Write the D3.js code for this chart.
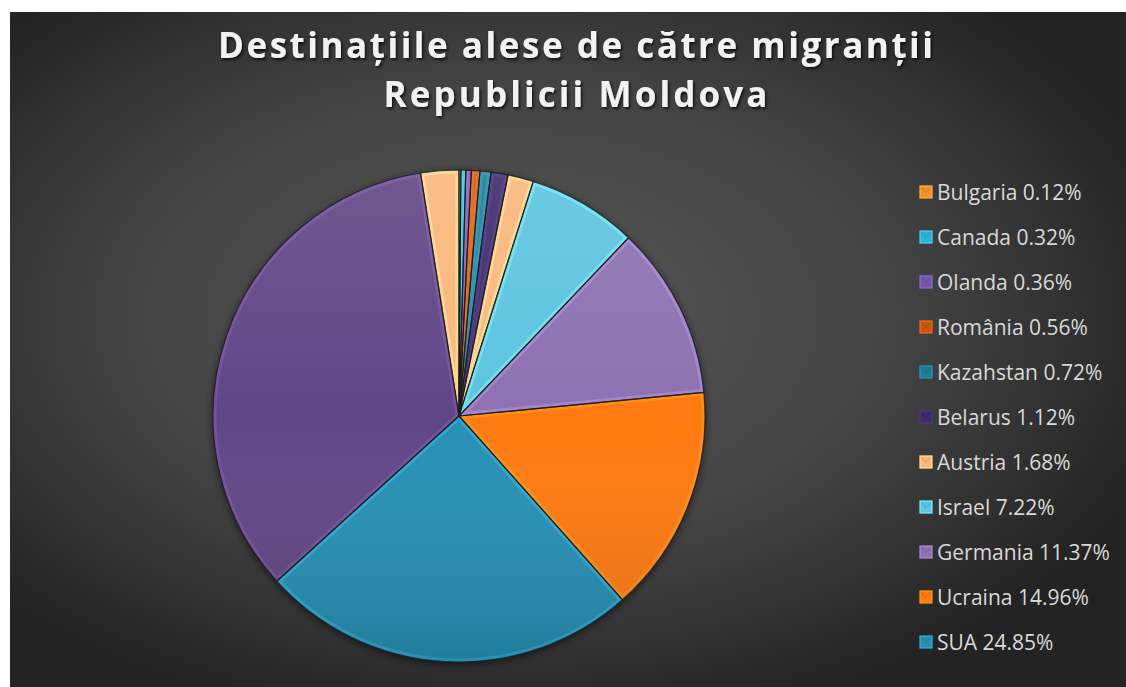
<!DOCTYPE html>
<html>
<head>
<meta charset="utf-8">
<script src="https://cdn.jsdelivr.net/npm/d3@7"></script>
<style>
  html, body { margin: 0; padding: 0; background: #ffffff; }
  svg { display: block; }
</style>
</head>
<body>
<svg id="chart" width="1126" height="687"></svg>
<script>
// ---- data ----
const titleLines = ["Destinațiile alese de către migranții", "Republicii Moldova"];
const countries = ["Bulgaria", "Canada", "Olanda", "România", "Kazahstan", "Belarus", "Austria", "Israel", "Germania", "Ucraina", "SUA", "Rusia", "Italia"];
const shares = [0.12, 0.32, 0.36, 0.56, 0.72, 1.12, 1.68, 7.22, 11.37, 14.96, 24.85, 34.22, 2.50];
const legendLabels = ["Bulgaria 0.12%", "Canada 0.32%", "Olanda 0.36%", "România 0.56%", "Kazahstan 0.72%", "Belarus 1.12%", "Austria 1.68%", "Israel 7.22%", "Germania 11.37%", "Ucraina 14.96%", "SUA 24.85%"];
const sliceColors = ["#f3922c", "#2fb0d2", "#7556a8", "#c9570f", "#1f7c96", "#3e2c6c", "#fbb77a", "#5cc4e0", "#8d72b1", "#ff7a10", "#2690b4", "#614686", "#fbb77a"];

// ---- layout ----
const W = 1126, H = 687;
const svg = d3.select("#chart");
const defs = svg.append("defs");

// background gradient
const bg = defs.append("radialGradient").attr("id", "bgGrad")
  .attr("cx", 0.45).attr("cy", 0.45).attr("r", 0.62);
bg.append("stop").attr("offset", "0%").attr("stop-color", "#575757");
bg.append("stop").attr("offset", "55%").attr("stop-color", "#444444");
bg.append("stop").attr("offset", "100%").attr("stop-color", "#232323");
svg.append("rect").attr("x", 10).attr("y", 12).attr("width", W - 10).attr("height", H - 12)
  .attr("fill", "url(#bgGrad)");

// filters
const ts = defs.append("filter").attr("id", "textShadow").attr("x", "-10%").attr("y", "-30%").attr("width", "120%").attr("height", "160%");
ts.append("feDropShadow").attr("dx", 1.5).attr("dy", 2).attr("stdDeviation", 1.5)
  .attr("flood-color", "#000").attr("flood-opacity", 0.75);
const ps = defs.append("filter").attr("id", "pieShadow").attr("x", "-20%").attr("y", "-20%").attr("width", "140%").attr("height", "140%");
ps.append("feDropShadow").attr("dx", 0).attr("dy", 2).attr("stdDeviation", 4)
  .attr("flood-color", "#000").attr("flood-opacity", 0.6);

// lighting overlay
const light = defs.append("linearGradient").attr("id", "lightGrad")
  .attr("x1", 0).attr("y1", 0).attr("x2", 0).attr("y2", 1);
light.append("stop").attr("offset", "0%").attr("stop-color", "#fff").attr("stop-opacity", 0.10);
light.append("stop").attr("offset", "50%").attr("stop-color", "#fff").attr("stop-opacity", 0.0);
light.append("stop").attr("offset", "100%").attr("stop-color", "#000").attr("stop-opacity", 0.14);

// title
const title = svg.append("g").attr("filter", "url(#textShadow)");
const titleY = [58, 107];
const titleW = [715, 384];
titleLines.forEach((t, i) => {
  title.append("text")
    .attr("x", 575.5).attr("y", titleY[i])
    .attr("text-anchor", "middle")
    .attr("font-family", "'Open Sans', sans-serif")
    .attr("font-weight", 700)
    .attr("font-size", 35)
    .attr("fill", "#f2f2f2")
    .attr("textLength", titleW[i])
    .attr("lengthAdjust", "spacing")
    .text(t);
});

// pie
const cx = 459, cy = 416, R = 246;
const pie = d3.pie().sort(null).value(d => d.v).startAngle(0).endAngle(2 * Math.PI);
const data = countries.map((c, i) => ({ name: c, v: shares[i], color: sliceColors[i] }));
const arcs = pie(data);
const arc = d3.arc().innerRadius(0).outerRadius(R);

// shadow under pie
svg.append("circle").attr("cx", cx).attr("cy", cy).attr("r", R)
  .attr("fill", "#333").attr("filter", "url(#pieShadow)");

// clip paths per slice (svg coords)
arcs.forEach((a, i) => {
  defs.append("clipPath").attr("id", "clip" + i)
    .append("path").attr("d", arc(a)).attr("transform", `translate(${cx},${cy})`);
});

// slice fills
const fills = svg.append("g").attr("transform", `translate(${cx},${cy})`);
fills.selectAll("path").data(arcs).enter().append("path")
  .attr("d", arc)
  .attr("fill", d => d.data.color);

// bevel highlight (inner edge, clipped to each slice)
const hl = svg.append("g");
arcs.forEach((a, i) => {
  hl.append("g").attr("clip-path", `url(#clip${i})`)
    .append("path")
    .attr("d", arc(a))
    .attr("transform", `translate(${cx},${cy})`)
    .attr("fill", "none")
    .attr("stroke", d3.color(a.data.color).brighter(0.8))
    .attr("stroke-width", 7)
    .attr("stroke-opacity", 0.5)
    .attr("stroke-linejoin", "round");
});

// lighting overlay over pie
svg.append("circle").attr("cx", cx).attr("cy", cy).attr("r", R).attr("fill", "url(#lightGrad)");

// dark outline
const outl = svg.append("g").attr("transform", `translate(${cx},${cy})`);
outl.selectAll("path").data(arcs).enter().append("path")
  .attr("d", arc)
  .attr("fill", "none")
  .attr("stroke", "#1a1a1a")
  .attr("stroke-opacity", 0.8)
  .attr("stroke-width", 1.2)
  .attr("stroke-linejoin", "round");

// legend
const legX = 920, legY0 = 192, legStep = 45;
const leg = svg.append("g");
const items = leg.selectAll("g").data(legendLabels).enter().append("g")
  .attr("transform", (d, i) => `translate(${legX},${legY0 + i * legStep})`);
items.append("rect").attr("x", 0).attr("y", -6).attr("width", 12).attr("height", 12)
  .attr("fill", (d, i) => sliceColors[i])
  .attr("stroke", (d, i) => d3.color(sliceColors[i]).brighter(0.6))
  .attr("stroke-width", 1.2);
items.append("path")
  .attr("d", "M1.5,-4.5 L6,0.5 L10.5,-4.5")
  .attr("fill", "none")
  .attr("stroke", (d, i) => d3.color(sliceColors[i]).darker(0.8))
  .attr("stroke-width", 1)
  .attr("stroke-opacity", 0.6);
items.append("text")
  .attr("x", 17).attr("y", 0).attr("dy", "0.36em")
  .attr("font-family", "'Open Sans', sans-serif")
  .attr("font-size", 21)
  .attr("fill", "#d9d9d9")
  .text(d => d);
</script>
</body>
</html>
